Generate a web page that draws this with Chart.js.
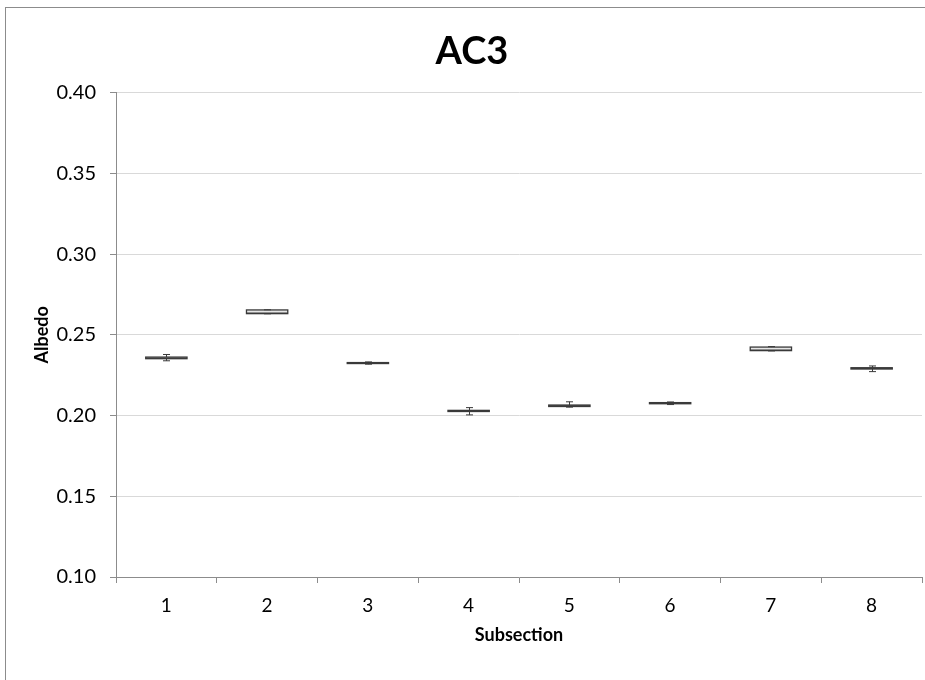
<!DOCTYPE html>
<html>
<head>
<meta charset="utf-8">
<script src="https://cdn.jsdelivr.net/npm/chart.js@4/dist/chart.umd.min.js"></script>
<style>
  html, body { margin: 0; padding: 0; background: #fff; overflow: hidden; }
  #wrap { position: relative; width: 925px; height: 680px; }
  #frame { position: absolute; left: 5px; top: 7px; width: 1000px; height: 1000px; border: 1px solid #8c8c8c; box-sizing: border-box; }
  canvas { position: absolute; left: 0; top: 0; }
</style>
</head>
<body>
<div id="wrap">
  <div id="frame"></div>
  <canvas id="c" width="925" height="680"></canvas>
</div>
<script>
// Albedo per subsection: five-number summaries
const subsections = ['1', '2', '3', '4', '5', '6', '7', '8'];
const minVals    = [0.2339, 0.2630, 0.2318, 0.2004, 0.2052, 0.2068, 0.2400, 0.2272];
const q1Vals     = [0.2352, 0.2631, 0.2322, 0.2025, 0.2056, 0.2073, 0.2402, 0.2288];
const medianVals = [0.2356, 0.2634, 0.2325, 0.2029, 0.2060, 0.2076, 0.2405, 0.2292];
const q3Vals     = [0.2362, 0.2654, 0.2328, 0.2032, 0.2065, 0.2080, 0.2424, 0.2296];
const maxVals    = [0.2378, 0.2655, 0.2332, 0.2049, 0.2085, 0.2084, 0.2427, 0.2307];
const yTicks     = [0.10, 0.15, 0.20, 0.25, 0.30, 0.35, 0.40];

const lowerBox = subsections.map((_, i) => [q1Vals[i], medianVals[i]]);
const upperBox = subsections.map((_, i) => [medianVals[i], q3Vals[i]]);

const FONT = 'Lato, "Open Sans", "Liberation Sans", sans-serif';
const INK = '#3a3a3a';

// Box outlines, medians and whiskers, placed through the chart's own scales
const boxPlotPlugin = {
  id: 'boxOutline',
  afterDatasetsDraw(chart) {
    const { ctx, scales: { y } } = chart;
    const bars = chart.getDatasetMeta(0).data;
    ctx.save();
    ctx.strokeStyle = INK;
    subsections.forEach((cat, i) => {
      const bar = bars[i];
      const half = bar.width / 2;
      const left = bar.x - half;
      const right = bar.x + half;
      const top = y.getPixelForValue(q3Vals[i]);
      const bottom = y.getPixelForValue(q1Vals[i]);
      const mid = y.getPixelForValue(medianVals[i]);

      // box and median
      ctx.lineWidth = 1.3;
      ctx.strokeRect(left, top, right - left, bottom - top);
      ctx.beginPath();
      ctx.moveTo(left, mid);
      ctx.lineTo(right, mid);
      ctx.stroke();

      // whiskers with caps
      ctx.lineWidth = 1;
      const px = Math.round(bar.x) + 0.5;
      const cap = 3.5;
      [[maxVals[i], top], [minVals[i], bottom]].forEach(([end, edgePx]) => {
        const pe = y.getPixelForValue(end);
        ctx.beginPath();
        ctx.moveTo(px, edgePx);
        ctx.lineTo(px, pe);
        ctx.moveTo(px - cap, pe);
        ctx.lineTo(px + cap, pe);
        ctx.stroke();
      });
    });
    ctx.restore();
  }
};

const boxStyle = {
  backgroundColor: '#e6e6e6',
  borderWidth: 0,
  grouped: false,
  categoryPercentage: 1.0,
  barPercentage: 0.41
};

new Chart(document.getElementById('c'), {
  type: 'bar',
  data: {
    labels: subsections,
    datasets: [
      Object.assign({ label: 'Q1–Median', data: lowerBox }, boxStyle),
      Object.assign({ label: 'Median–Q3', data: upperBox }, boxStyle)
    ]
  },
  options: {
    responsive: false,
    devicePixelRatio: 1,
    animation: false,
    layout: { padding: { left: 22, right: 3, top: 0, bottom: 0 } },
    plugins: {
      legend: { display: false },
      tooltip: { enabled: false },
      title: {
        display: true,
        text: 'AC3',
        color: '#000',
        font: { family: FONT, size: 38, weight: 'bold' },
        padding: { top: 29, bottom: 18 }
      }
    },
    scales: {
      x: {
        offset: true,
        grid: { offset: true, drawOnChartArea: false, drawTicks: true, tickLength: 6, color: '#8c8c8c' },
        border: { display: true, color: '#8c8c8c', width: 1 },
        ticks: { color: '#000', font: { family: FONT, size: 19 }, padding: 11 },
        title: {
          display: true,
          text: 'Subsection',
          color: '#000',
          font: { family: FONT, size: 18, weight: 'bold' },
          padding: { top: 0, bottom: 34 }
        },
        afterFit(scale) { scale.height = 103; }
      },
      y: {
        min: 0.10,
        max: 0.40,
        afterBuildTicks(scale) { scale.ticks = yTicks.map(v => ({ value: v })); },
        grid: { color: '#d9d9d9', drawTicks: true, tickLength: 6, tickColor: '#8c8c8c' },
        border: { display: true, color: '#8c8c8c', width: 1 },
        ticks: {
          color: '#000',
          font: { family: FONT, size: 20 },
          padding: 14,
          callback: v => Number(v).toFixed(2)
        },
        title: {
          display: true,
          text: 'Albedo',
          color: '#000',
          font: { family: FONT, size: 18, weight: 'bold' },
          padding: { top: 9, bottom: 0 }
        },
        afterFit(scale) { scale.width = 94; }
      }
    }
  },
  plugins: [boxPlotPlugin]
});
</script>
</body>
</html>
